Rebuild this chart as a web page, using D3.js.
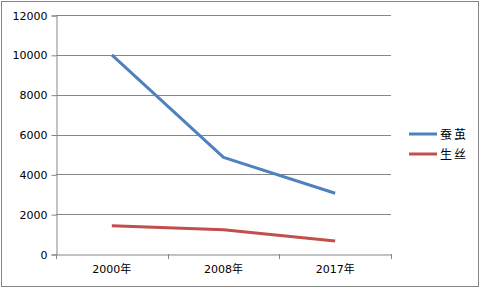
<!DOCTYPE html>
<html>
<head>
<meta charset="utf-8">
<script src="https://cdn.jsdelivr.net/npm/d3@7"></script>
<style>
  body { margin: 0; background: #fff; }
  svg { display: block; }
  .tick text { font-family: "DejaVu Sans", sans-serif; font-size: 11px; fill: #000; }
</style>
</head>
<body>
<svg id="chart" width="481" height="289"></svg>
<script>
const years = ["2000年", "2008年", "2017年"];
const cocoon = [10000, 4850, 3050];
const silk = [1415, 1215, 650];
const yTicks = [0, 2000, 4000, 6000, 8000, 10000, 12000];
const seriesNames = ["蚕茧", "生丝"];
const colors = ["#4F81BD", "#C0504D"];

const svg = d3.select("#chart");
const margin = {top: 15, left: 56, right: 391, bottom: 254};

// outer frame
svg.append("rect")
    .attr("x", 1.5).attr("y", 1.5)
    .attr("width", 477).attr("height", 285)
    .attr("fill", "#fff")
    .attr("stroke", "#868686");

const x = d3.scaleBand().domain(years).range([margin.left, margin.right]);
const y = d3.scaleLinear().domain([0, 12000]).range([margin.bottom, margin.top]);

// gridlines
svg.append("g")
    .selectAll("line")
    .data(yTicks.slice(1))
    .enter().append("line")
    .attr("x1", margin.left).attr("x2", margin.right)
    .attr("y1", d => Math.round(y(d)) + 0.5).attr("y2", d => Math.round(y(d)) + 0.5)
    .attr("stroke", "#868686");

const yAxis = svg.append("g")
    .attr("transform", "translate(" + (margin.left + 0.5) + ",0.5)")
    .call(d3.axisLeft(y).tickValues(yTicks).tickSize(5).tickPadding(4).tickFormat(d3.format("d")));
yAxis.selectAll("line, path").attr("stroke", "#868686");

const xAxis = svg.append("g")
    .attr("transform", "translate(0," + (margin.bottom + 0.5) + ")")
    .call(d3.axisBottom(x).tickSize(0).tickPadding(11));
xAxis.select("path").attr("stroke", "#868686");
xAxis.selectAll(".tick text").style("font-family", "'DejaVu Sans', 'Noto Sans CJK SC', sans-serif");

// band boundary ticks
svg.append("g")
    .selectAll("line")
    .data(years.map(d => x(d)).concat([x.range()[1]]))
    .enter().append("line")
    .attr("x1", d => Math.round(d) + 0.5).attr("x2", d => Math.round(d) + 0.5)
    .attr("y1", margin.bottom).attr("y2", margin.bottom + 5)
    .attr("stroke", "#868686");

const line = d3.line()
    .x((d, i) => x(years[i]) + x.bandwidth() / 2)
    .y(d => y(d));

[cocoon, silk].forEach(function(s, i) {
    svg.append("path")
        .datum(s)
        .attr("fill", "none")
        .attr("stroke", colors[i])
        .attr("stroke-width", 3)
        .attr("stroke-linejoin", "round")
        .attr("d", line);
});

// legend
const legend = svg.append("g");
seriesNames.forEach(function(name, i) {
    const ly = 134 + i * 20;
    legend.append("line")
        .attr("x1", 409).attr("x2", 437)
        .attr("y1", ly).attr("y2", ly)
        .attr("stroke", colors[i])
        .attr("stroke-width", 3);
    legend.append("text")
        .attr("x", 440).attr("y", ly + 4.5)
        .attr("font-family", "'Noto Sans CJK SC', sans-serif")
        .attr("font-size", 12)
        .attr("letter-spacing", 2)
        .text(name);
});
</script>
</body>
</html>
